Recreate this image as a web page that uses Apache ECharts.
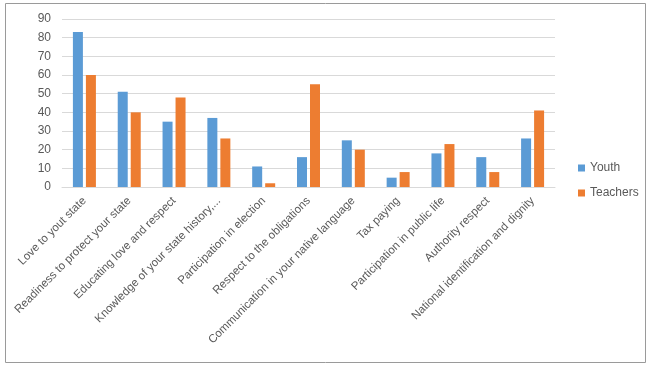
<!DOCTYPE html>
<html>
<head>
<meta charset="utf-8">
<script src="https://cdn.jsdelivr.net/npm/echarts@6/dist/echarts.min.js"></script>
<style>
  html, body { margin: 0; padding: 0; background: #fff; }
  #chart { width: 650px; height: 369px; }
</style>
</head>
<body>
<div id="chart"></div>
<script>
// categories and values
const categories = [
  "Love to yout state",
  "Readiness to protect your state",
  "Educating love and respect",
  "Knowledge of your state history,...",
  "Participation in election",
  "Respect to the obligations",
  "Communication in your native language",
  "Tax paying",
  "Participation in public life",
  "Authority respect",
  "National identification and dignity"
];
const youth = [83, 51, 35, 37, 11, 16, 25, 5, 18, 16, 26];
const teachers = [60, 40, 48, 26, 2, 55, 20, 8, 23, 8, 41];

const textColor = "#595959";
const font = "Liberation Sans";

const chart = echarts.init(document.getElementById("chart"));
chart.setOption({
  backgroundColor: "#fff",
  animation: false,
  textStyle: { fontFamily: font },
  // outer frame
  graphic: [{
    type: "rect",
    shape: { x: 5.5, y: 3.5, width: 640, height: 359 },
    style: { fill: "none", stroke: "#9a9a9a", lineWidth: 1 },
    silent: true
  }],
  grid: { left: 62, right: 95, top: 19, bottom: 182 },
  legend: {
    orient: "vertical",
    left: 573,
    top: 157,
    itemWidth: 7,
    itemHeight: 7,
    itemGap: 13,
    icon: "rect",
    textStyle: { color: textColor, fontSize: 12, fontFamily: font },
    data: ["Youth", "Teachers"]
  },
  xAxis: {
    type: "category",
    data: categories,
    axisTick: { show: false },
    axisLine: { lineStyle: { color: "#d9d9d9" } },
    axisLabel: {
      interval: 0,
      rotate: 45,
      margin: 12,
      color: textColor,
      fontSize: 11.5,
      fontFamily: font
    }
  },
  yAxis: {
    type: "value",
    min: 0,
    max: 90,
    interval: 10,
    axisLine: { show: false },
    axisTick: { show: false },
    splitLine: { lineStyle: { color: "#d9d9d9" } },
    axisLabel: { color: textColor, fontSize: 12, margin: 11, fontFamily: font }
  },
  series: [
    {
      name: "Youth",
      type: "bar",
      data: youth,
      barWidth: 10,
      barGap: "30%",
      itemStyle: { color: "#5b9bd5" }
    },
    {
      name: "Teachers",
      type: "bar",
      data: teachers,
      barWidth: 10,
      itemStyle: { color: "#ed7d31" }
    }
  ]
});
</script>
</body>
</html>
